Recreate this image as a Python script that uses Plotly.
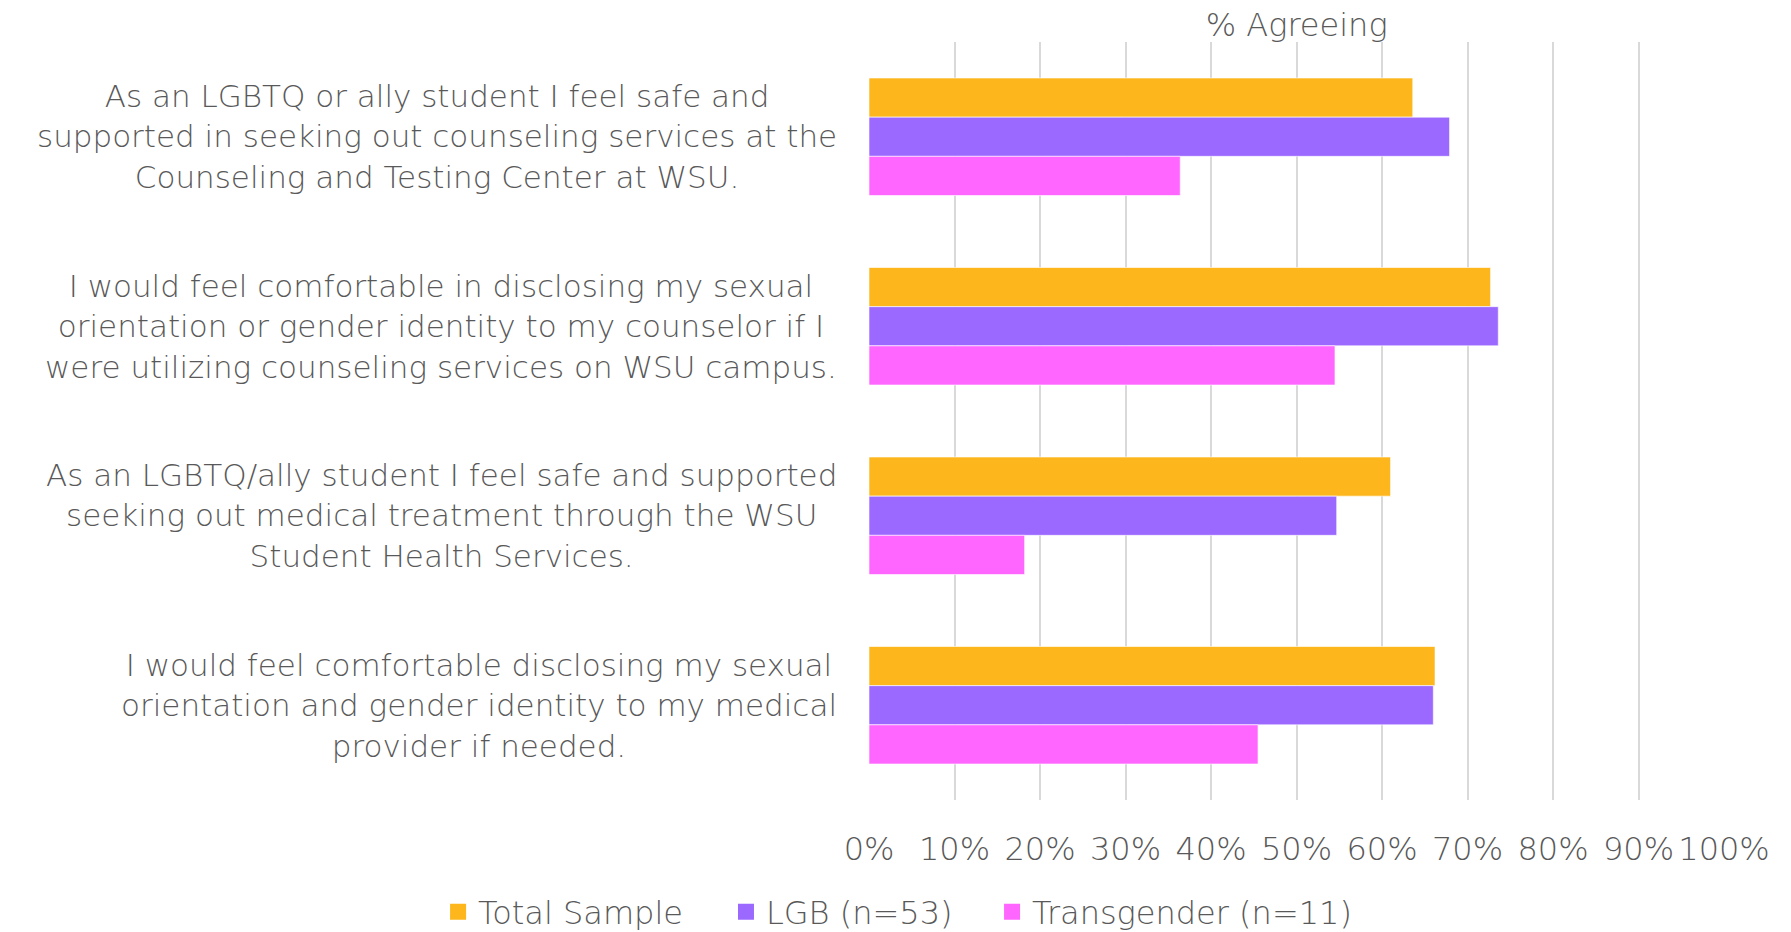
import plotly.graph_objects as go

# survey statements (line breaks as in the original chart)
statements = [
    "As an LGBTQ or ally student I feel safe and<br>supported in seeking out counseling services at the<br>Counseling and Testing Center at WSU.",
    "I would feel comfortable in disclosing my sexual<br>orientation or gender identity to my counselor if I<br>were utilizing counseling services on WSU campus.",
    "As an LGBTQ/ally student I feel safe and supported<br>seeking out medical treatment through the WSU<br>Student Health Services.",
    "I would feel comfortable disclosing my sexual<br>orientation and gender identity to my medical<br>provider if needed.",
]

total_sample = [0.636, 0.727, 0.610, 0.662]
lgb = [0.679, 0.736, 0.547, 0.660]
transgender = [0.364, 0.545, 0.182, 0.455]

series_names = ["Total Sample", "LGB (n=53)", "Transgender (n=11)"]
colors = ["#FDB71D", "#9B69FF", "#FF66FF"]

FONT = "DejaVu Sans"
GREY = "#595959"
FS = 31

fig = go.Figure()
for name, vals, col in zip(series_names, [total_sample, lgb, transgender], colors):
    fig.add_trace(go.Bar(
        y=statements, x=vals, name=name, orientation="h", showlegend=False,
        marker=dict(color=col, line=dict(color="rgba(255,255,255,0.6)", width=1)),
    ))

# one small legend per series so the entries can be spaced like the original
legend_ids = ["legend", "legend2", "legend3"]
legend_x = [0.2423, 0.4045, 0.5544]
for name, col, lid in zip(series_names, colors, legend_ids):
    fig.add_trace(go.Scatter(
        x=[None], y=[None], name=name, mode="markers", legend=lid,
        marker=dict(symbol="square", size=17, color=col),
    ))

# category labels: right-anchored blocks, lines centred (like Excel)
for s in statements:
    fig.add_annotation(
        x=0, xref="paper", xshift=-30, y=s, yref="y",
        text=s, showarrow=False, xanchor="right", align="center",
        font=dict(family=FONT, size=FS, color=GREY, weight=200),
    )

fig.update_layout(
    width=1775, height=924,
    barmode="group", bargap=0.38, bargroupgap=0,
    plot_bgcolor="white", paper_bgcolor="white",
    margin=dict(l=861, r=59, t=34, b=132, autoexpand=False),
    font=dict(family=FONT, size=FS, color=GREY, weight=200),
    title=dict(text="% Agreeing", x=0.726, xanchor="center",
               y=0.982, yanchor="middle", font=dict(size=32, color=GREY)),
)
for lid, lx in zip(legend_ids, legend_x):
    fig.update_layout({lid: dict(
        orientation="h", xref="container", yref="container",
        x=lx, xanchor="left", y=1 - 904 / 924, yanchor="middle",
        font=dict(size=32, color=GREY), itemwidth=30,
        bgcolor="rgba(0,0,0,0)",
    )})

fig.update_xaxes(range=[0, 1], dtick=0.1, tickformat=".0%", tickangle=0,
                 tickfont=dict(size=32),
                 showgrid=True, gridcolor="#D9D9D9", gridwidth=1.5,
                 zeroline=False, showline=False, ticks="", ticklabelstandoff=27)
fig.update_yaxes(autorange="reversed", showticklabels=False, showgrid=False,
                 zeroline=False, showline=False)

fig.write_html("out.html")
